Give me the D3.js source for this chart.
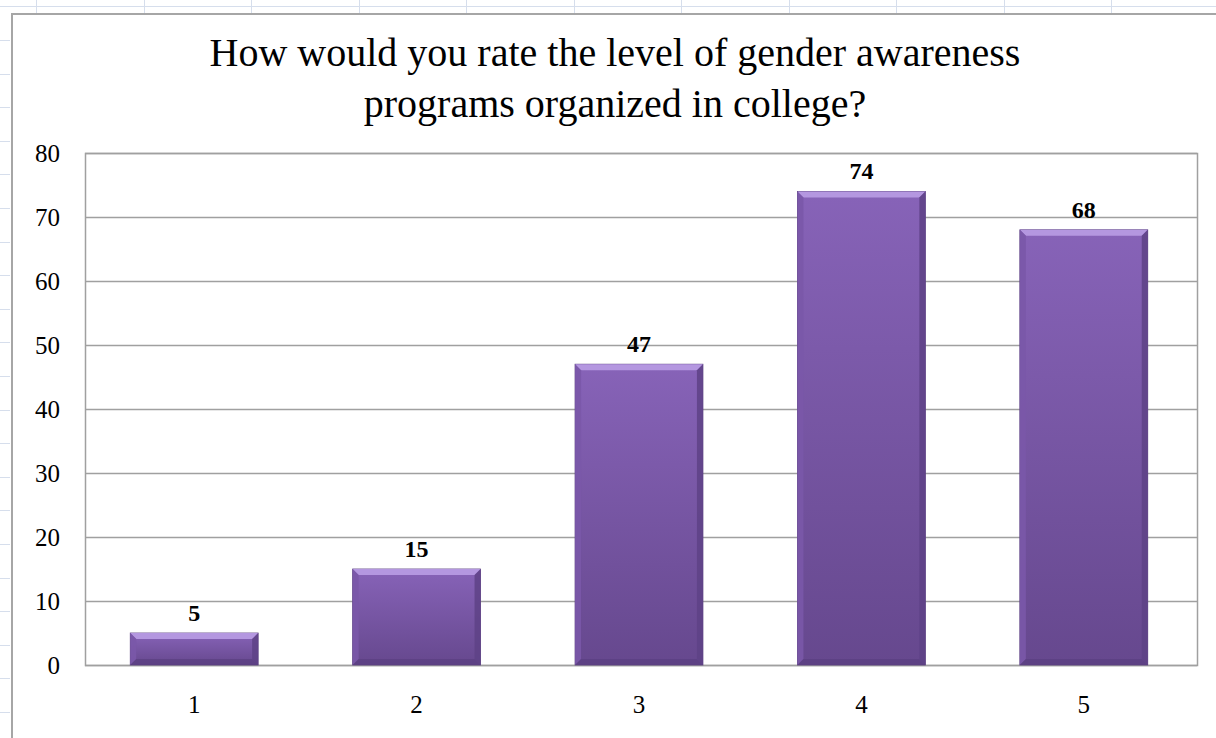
<!DOCTYPE html>
<html>
<head>
<meta charset="utf-8">
<script src="https://cdn.jsdelivr.net/npm/d3@7"></script>
<style>
  body { margin: 0; background: #fff; }
  svg { display: block; }
</style>
</head>
<body>
<script>
const categories = ["1", "2", "3", "4", "5"];
const values = [5, 15, 47, 74, 68];
const yTicks = [0, 10, 20, 30, 40, 50, 60, 70, 80];
const titleLines = ["How would you rate the level of gender awareness", "programs organized in college?"];

const width = 1216, height = 738;
const plot = { left: 85, top: 153, right: 1197, bottom: 665 };
const serif = "'Liberation Serif', 'Times New Roman', serif";

const svg = d3.select("body").append("svg")
  .attr("width", width).attr("height", height)
  .attr("xmlns", "http://www.w3.org/2000/svg");

// spreadsheet background behind the chart
const sheet = svg.append("g").attr("stroke", "#d6deec").attr("stroke-width", 1);
sheet.append("line").attr("x1", 0).attr("x2", width).attr("y1", 6.5).attr("y2", 6.5);
d3.range(36, width, 107.5).forEach(x => {
  sheet.append("line").attr("x1", Math.round(x) + 0.5).attr("x2", Math.round(x) + 0.5).attr("y1", 0).attr("y2", 13);
});
d3.range(40, height, 33.6).forEach(y => {
  sheet.append("line").attr("x1", 0).attr("x2", 10).attr("y1", Math.round(y) + 0.5).attr("y2", Math.round(y) + 0.5);
});

// chart area frame
svg.append("rect")
  .attr("x", 12).attr("y", 14).attr("width", width + 10).attr("height", height)
  .attr("fill", "#fff").attr("stroke", "#a6a6a6").attr("stroke-width", 2);

const x = d3.scaleBand()
  .domain(categories)
  .range([plot.left - 2, plot.right - 2])
  .paddingInner(0.425)
  .paddingOuter(0.2125);

const y = d3.scaleLinear()
  .domain([0, 80])
  .range([plot.bottom, plot.top]);

// title
svg.append("text")
  .attr("x", 615).attr("y", 66)
  .attr("text-anchor", "middle")
  .attr("font-family", serif).attr("font-size", "40px").attr("fill", "#000")
  .selectAll("tspan")
  .data(titleLines)
  .enter()
  .append("tspan")
  .attr("x", 615)
  .attr("dy", (d, i) => i === 0 ? 0 : 51)
  .text(d => d);

// gridlines
svg.append("g")
  .selectAll("line")
  .data(yTicks)
  .enter()
  .append("line")
  .attr("x1", plot.left).attr("x2", plot.right)
  .attr("y1", d => Math.round(y(d)) + 0.5).attr("y2", d => Math.round(y(d)) + 0.5)
  .attr("stroke", "#a0a0a0").attr("stroke-width", 1.5);

svg.append("rect")
  .attr("x", plot.left + 0.5).attr("y", plot.top + 0.5)
  .attr("width", plot.right - plot.left).attr("height", plot.bottom - plot.top)
  .attr("fill", "none").attr("stroke", "#a0a0a0").attr("stroke-width", 1.5);

// axes
const yAxis = svg.append("g")
  .attr("transform", `translate(${plot.left},0)`)
  .call(d3.axisLeft(y).tickValues(yTicks).tickSize(0).tickPadding(25));
const xAxis = svg.append("g")
  .attr("transform", `translate(0,${plot.bottom})`)
  .call(d3.axisBottom(x).tickSize(0).tickPadding(30));
[yAxis, xAxis].forEach(ax => {
  ax.attr("font-family", serif).attr("font-size", 25);
  ax.select(".domain").remove();
  ax.selectAll("text")
    .attr("font-family", serif).attr("font-size", "25px").attr("fill", "#000");
});

// bar gradient
const defs = svg.append("defs");
const grad = defs.append("linearGradient")
  .attr("id", "barGrad").attr("x1", 0).attr("y1", 0).attr("x2", 0).attr("y2", 1);
grad.append("stop").attr("offset", "0%").attr("stop-color", "#8763b8");
grad.append("stop").attr("offset", "100%").attr("stop-color", "#66488e");

const bev = 6;
const bars = svg.append("g")
  .selectAll("g")
  .data(values)
  .enter()
  .append("g")
  .attr("transform", (d, i) => `translate(${x(categories[i])},${y(d)})`);

bars.append("rect")
  .attr("width", x.bandwidth())
  .attr("height", d => y(0) - y(d))
  .attr("fill", "url(#barGrad)")
  .attr("stroke", "#5a3f80").attr("stroke-width", 0.8);

// bevel: top light, sides and bottom darker
bars.append("path")
  .attr("d", () => {
    const w = x.bandwidth();
    return `M0,0 L${w},0 L${w - bev},${bev} L${bev},${bev} Z`;
  })
  .attr("fill", "#b497e0");
bars.append("path")
  .attr("d", d => {
    const h = y(0) - y(d);
    return `M0,0 L${bev},${bev} L${bev},${h - bev} L0,${h} Z`;
  })
  .attr("fill", "#7a58a8").attr("opacity", 0.9);
bars.append("path")
  .attr("d", d => {
    const w = x.bandwidth(), h = y(0) - y(d);
    return `M${w},0 L${w - bev},${bev} L${w - bev},${h - bev} L${w},${h} Z`;
  })
  .attr("fill", "#5e4286").attr("opacity", 0.85);
bars.append("path")
  .attr("d", d => {
    const w = x.bandwidth(), h = y(0) - y(d);
    return `M0,${h} L${bev},${h - bev} L${w - bev},${h - bev} L${w},${h} Z`;
  })
  .attr("fill", "#5a3f80").attr("opacity", 0.7);

// data labels
bars.append("text")
  .attr("x", x.bandwidth() / 2).attr("y", -12)
  .attr("text-anchor", "middle")
  .attr("font-family", serif).attr("font-size", "24px").attr("font-weight", "bold")
  .attr("fill", "#000")
  .text(d => d);
</script>
</body>
</html>
